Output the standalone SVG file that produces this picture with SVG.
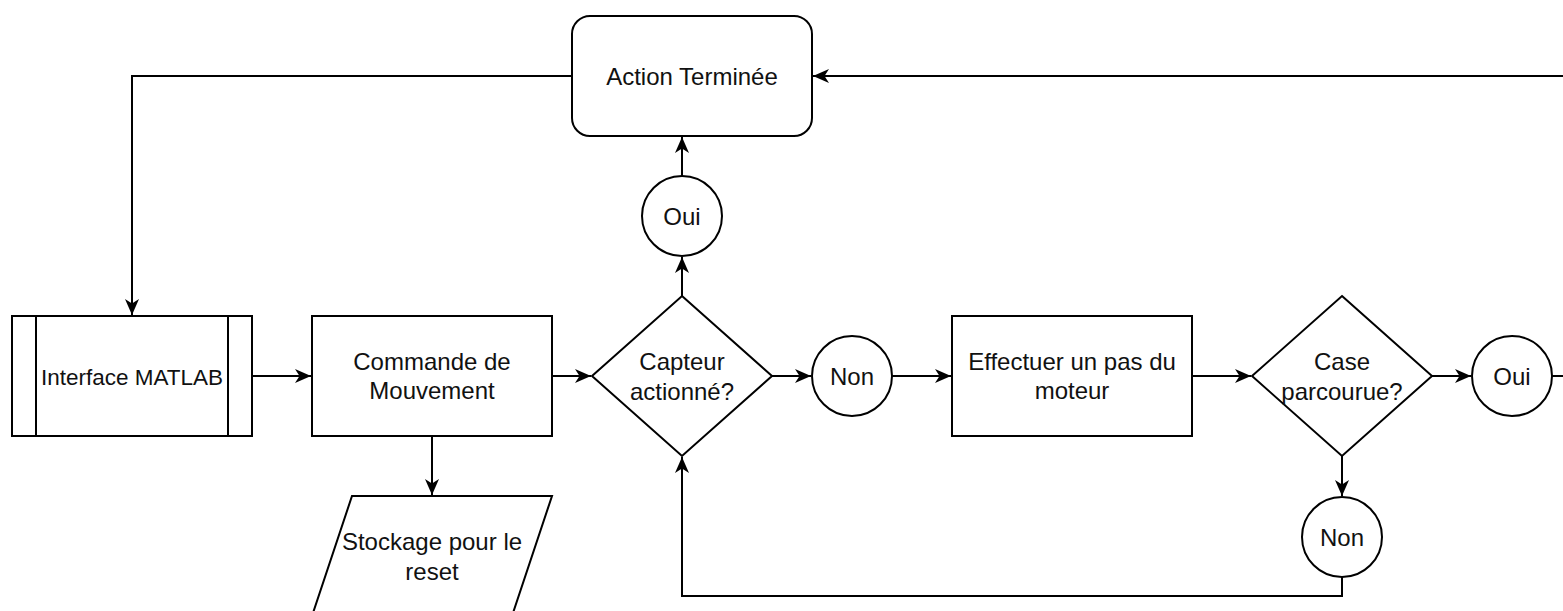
<svg xmlns="http://www.w3.org/2000/svg" width="1563" height="611" viewBox="0 0 1563 611">
<style>
.s{fill:#fff;stroke:#000;stroke-width:2}
.c{fill:none;stroke:#000;stroke-width:2}
text{font-family:"Liberation Sans",Arial,sans-serif;font-size:24px;fill:#111;text-anchor:middle}
</style>
<defs>
<marker id="a" viewBox="0 0 16 16" refX="16" refY="8" markerWidth="16" markerHeight="16" markerUnits="userSpaceOnUse" orient="auto">
<path d="M0,1 L16,8 L0,15 L4.5,8 Z" fill="#000"/>
</marker>
</defs>
<rect width="1563" height="611" fill="#fff"/>
<g id="connectors">
<path class="c" d="M252,376 H311" marker-end="url(#a)"/>
<path class="c" d="M552,376 H591" marker-end="url(#a)"/>
<path class="c" d="M772,376 H811" marker-end="url(#a)"/>
<path class="c" d="M892,376 H951" marker-end="url(#a)"/>
<path class="c" d="M1192,376 H1251" marker-end="url(#a)"/>
<path class="c" d="M1432,376 H1471" marker-end="url(#a)"/>
<path class="c" d="M1552,376 H1580 V76 H813" marker-end="url(#a)"/>
<path class="c" d="M682,296 V257" marker-end="url(#a)"/>
<path class="c" d="M682,176 V137" marker-end="url(#a)"/>
<path class="c" d="M572,76 H132 V315" marker-end="url(#a)"/>
<path class="c" d="M432,436 V495" marker-end="url(#a)"/>
<path class="c" d="M1342,456 V496" marker-end="url(#a)"/>
<path class="c" d="M1342,577 V596 H682 V457" marker-end="url(#a)"/>
</g>
<g id="action">
<rect class="s" x="572" y="16" width="240" height="120" rx="18"/>
<text x="692" y="84.5">Action Terminée</text>
</g>
<g id="interface">
<rect class="s" x="12" y="316" width="240" height="120"/>
<line class="c" x1="36" y1="316" x2="36" y2="436"/>
<line class="c" x1="228" y1="316" x2="228" y2="436"/>
<text x="132" y="384.5" style="font-size:22.5px">Interface MATLAB</text>
</g>
<g id="commande">
<rect class="s" x="312" y="316" width="240" height="120"/>
<text x="432" y="370">Commande de</text>
<text x="432" y="399">Mouvement</text>
</g>
<g id="stockage">
<path class="s" d="M352,496 H552 L512,616 H312 Z"/>
<text x="432" y="550">Stockage pour le</text>
<text x="432" y="580">reset</text>
</g>
<g id="capteur">
<path class="s" d="M682,296 L772,376 L682,456 L592,376 Z"/>
<text x="682" y="370">Capteur</text>
<text x="682" y="400">actionné?</text>
</g>
<g id="oui1">
<circle class="s" cx="682" cy="216" r="40"/>
<text x="682" y="224.5">Oui</text>
</g>
<g id="non1">
<circle class="s" cx="852" cy="376" r="40"/>
<text x="852" y="384.5">Non</text>
</g>
<g id="effectuer">
<rect class="s" x="952" y="316" width="240" height="120"/>
<text x="1072" y="370">Effectuer un pas du</text>
<text x="1072" y="399">moteur</text>
</g>
<g id="case">
<path class="s" d="M1342,296 L1432,376 L1342,456 L1252,376 Z"/>
<text x="1342" y="370">Case</text>
<text x="1342" y="400">parcourue?</text>
</g>
<g id="oui2">
<circle class="s" cx="1512" cy="376" r="40"/>
<text x="1512" y="384.5">Oui</text>
</g>
<g id="non2">
<circle class="s" cx="1342" cy="537" r="40"/>
<text x="1342" y="545.5">Non</text>
</g>
</svg>
